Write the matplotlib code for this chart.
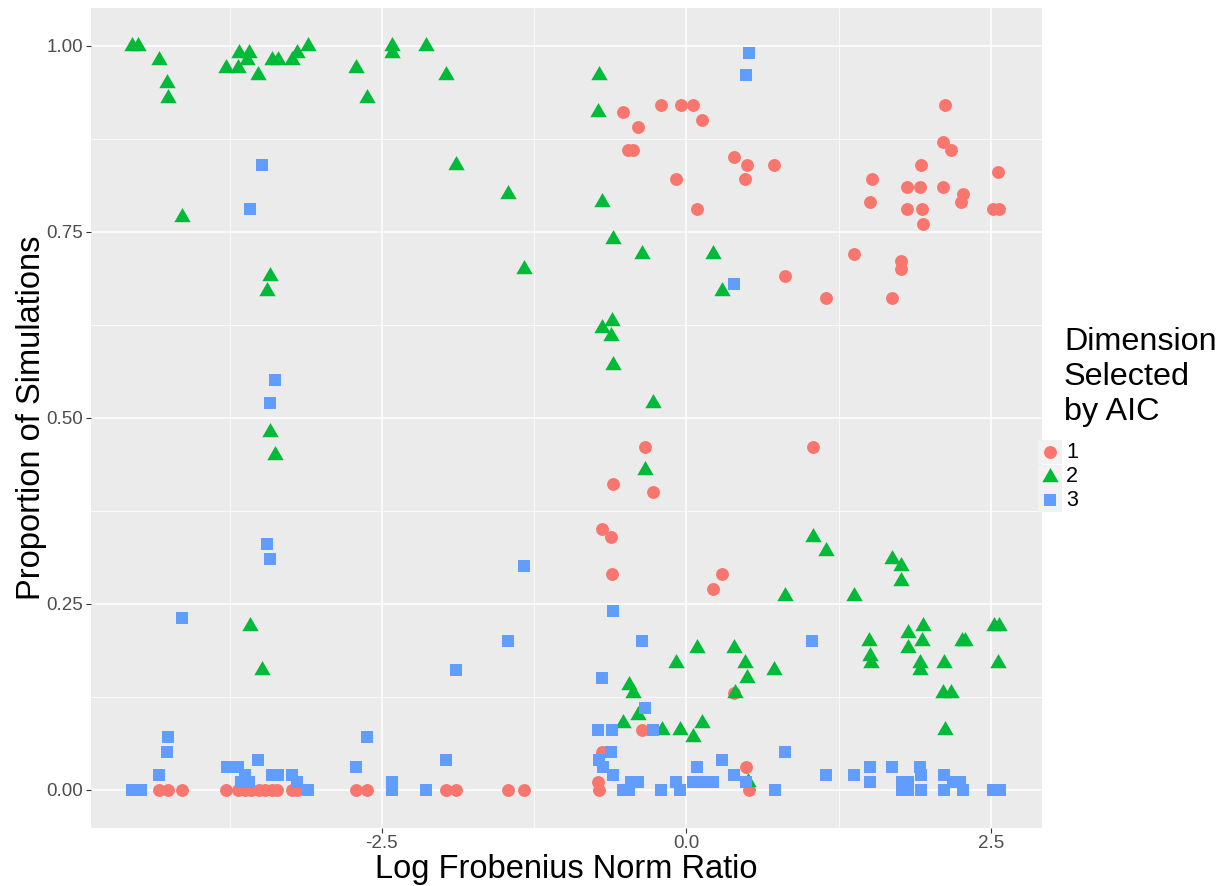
import matplotlib
matplotlib.use("Agg")
import matplotlib.pyplot as plt
import numpy as np
from matplotlib.path import Path
from matplotlib.patches import Rectangle

plt.rcParams['font.family'] = ['Liberation Sans', 'DejaVu Sans']

# ---------------- data ----------------
x_dim1 = [-4.33, -4.255, -4.14,
          -3.78, -3.68, -3.62, -3.57, -3.51, -3.46, -3.40, -3.36, -3.24, -3.20,
          -2.71, -2.62, -1.97, -1.89, -1.46, -1.33,
          -0.52, -0.40, -0.21, -0.046, 0.053, 0.129, -0.48, -0.435, 0.394, 0.498,
          0.72, 0.485, -0.085, 0.088, 0.81,
          2.12, 2.11, 2.17, 1.93, 1.525, 2.56, 1.815, 1.915, 2.11, 2.27, 2.255,
          1.505, 1.815, 1.935, 2.515, 2.57, 1.94, 1.374, 1.76, 1.763, 1.147,
          1.686, 1.038,
          -0.34, -0.60, -0.27, -0.69, -0.615, -0.61, 0.293, 0.222, 0.389, -0.364,
          -0.695, -0.725, -0.717, 0.49, 0.517]
y_dim1 = [0.00, 0.00, 0.00,
          0.00, 0.00, 0.00, 0.00, 0.00, 0.00, 0.00, 0.00, 0.00, 0.00,
          0.00, 0.00, 0.00, 0.00, 0.00, 0.00,
          0.91, 0.89, 0.92, 0.92, 0.92, 0.90, 0.86, 0.86, 0.85, 0.84,
          0.84, 0.82, 0.82, 0.78, 0.69,
          0.92, 0.87, 0.86, 0.84, 0.82, 0.83, 0.81, 0.81, 0.81, 0.80, 0.79,
          0.79, 0.78, 0.78, 0.78, 0.78, 0.76, 0.72, 0.71, 0.70, 0.66,
          0.66, 0.46,
          0.46, 0.41, 0.40, 0.35, 0.34, 0.29, 0.29, 0.27, 0.13, 0.08,
          0.05, 0.01, 0.00, 0.03, 0.00]

x_dim2 = [-4.55, -4.50, -4.33, -4.26, -4.255, -3.78, -3.68, -3.67, -3.61, -3.59,
          -3.52, -3.40, -3.355, -3.24, -3.20, -3.11, -4.14, -3.44, -3.42, -3.42,
          -3.375, -3.58, -3.48,
          -2.42, -2.42, -2.14, -2.71, -2.62, -1.97, -1.89, -1.46, -1.33,
          -0.717, -0.725, -0.69, -0.60, -0.36, 0.22, 0.293, -0.61, -0.69, -0.615,
          -0.60, -0.27, -0.34,
          0.81, 0.088, 0.389, -0.085, 0.485, 0.498, 0.72, -0.47, -0.44, 0.397,
          -0.40, -0.52, -0.20, -0.049, 0.131, 0.052, 0.51,
          1.686, 1.763, 1.763, 1.374, 1.038, 1.147, 1.94, 1.82, 1.50, 1.935,
          2.26, 2.29, 2.53, 2.57, 1.82, 1.51, 1.52, 1.915, 1.92, 2.116, 2.56,
          2.105, 2.176, 2.12]
y_dim2 = [1.00, 1.00, 0.98, 0.95, 0.93, 0.97, 0.97, 0.99, 0.98, 0.99,
          0.96, 0.98, 0.98, 0.98, 0.99, 1.00, 0.77, 0.67, 0.69, 0.48,
          0.45, 0.22, 0.16,
          1.00, 0.99, 1.00, 0.97, 0.93, 0.96, 0.84, 0.80, 0.70,
          0.96, 0.91, 0.79, 0.74, 0.72, 0.72, 0.67, 0.63, 0.62, 0.61,
          0.57, 0.52, 0.43,
          0.26, 0.19, 0.19, 0.17, 0.17, 0.15, 0.16, 0.14, 0.13, 0.13,
          0.10, 0.09, 0.08, 0.08, 0.09, 0.07, 0.01,
          0.31, 0.30, 0.28, 0.26, 0.34, 0.32, 0.22, 0.21, 0.20, 0.20,
          0.20, 0.20, 0.22, 0.22, 0.19, 0.18, 0.17, 0.17, 0.16, 0.17, 0.17,
          0.13, 0.13, 0.08]

x_dim3 = [-3.48, -3.58, -3.375, -3.42, -3.44, -3.42, -4.14, -4.255, -4.26, -4.33,
          -4.55, -4.48,
          -3.77, -3.68, -3.52, -3.62, -3.66, -3.59, -3.40, -3.355, -3.24, -3.20,
          -3.11,
          -1.33, -1.46, -1.89, -2.62, -2.71, -2.42, -2.42, -2.14, -1.97,
          0.517, 0.49, 0.394, -0.60, -0.36, 1.03, -0.69, -0.34, -0.727, -0.61,
          -0.27, -0.615, -0.717, -0.686, -0.60, -0.454, -0.40, -0.52, -0.47, -0.21,
          -0.085, -0.049, 0.052, 0.112, 0.167, 0.222, 0.088, 0.293, 0.394, 0.49,
          0.726, 0.813,
          1.147, 1.374, 1.51, 1.51, 1.686, 1.768, 1.823, 1.768, 1.823, 1.92,
          1.93, 1.93, 2.116, 2.116, 2.19, 2.247, 2.274, 2.52, 2.575]
y_dim3 = [0.84, 0.78, 0.55, 0.52, 0.33, 0.31, 0.23, 0.07, 0.05, 0.02,
          0.00, 0.00,
          0.03, 0.03, 0.04, 0.02, 0.01, 0.01, 0.02, 0.02, 0.02, 0.01,
          0.00,
          0.30, 0.20, 0.16, 0.07, 0.03, 0.01, 0.00, 0.00, 0.04,
          0.99, 0.96, 0.68, 0.24, 0.20, 0.20, 0.15, 0.11, 0.08, 0.08,
          0.08, 0.05, 0.04, 0.03, 0.02, 0.01, 0.01, 0.00, 0.00, 0.00,
          0.01, 0.00, 0.01, 0.01, 0.01, 0.01, 0.03, 0.04, 0.02, 0.01,
          0.00, 0.05,
          0.02, 0.02, 0.03, 0.01, 0.03, 0.01, 0.01, 0.00, 0.00, 0.03,
          0.02, 0.00, 0.02, 0.00, 0.01, 0.01, 0.00, 0.00, 0.00]

legend_labels = ["1", "2", "3"]
x_ticks = [-2.5, 0.0, 2.5]
x_ticklabels = ["-2.5", "0.0", "2.5"]
y_ticks = [0.0, 0.25, 0.5, 0.75, 1.0]
y_ticklabels = ["0.00", "0.25", "0.50", "0.75", "1.00"]

# ---------------- style ----------------
colors = ["#F8766D", "#00BA38", "#619CFF"]
h = np.sqrt(3) / 2
tri = Path([(0, 2 * h / 3), (-0.5, -h / 3), (0.5, -h / 3), (0, 2 * h / 3)],
           [Path.MOVETO, Path.LINETO, Path.LINETO, Path.CLOSEPOLY])
markers = ["o", tri, "s"]
sizes = [86, 185, 84]

W, H = 1230, 886
fig = plt.figure(figsize=(W / 100, H / 100), dpi=100)
L, R, T, B = 91, 1042.3, 8.3, 828.3
ax = fig.add_axes([L / W, (H - B) / H, (R - L) / W, (B - T) / H])
ax.set_facecolor("#EBEBEB")

x0px, xs = 686.3, 121.8
y0px, ys = 789.5, 744.0
ax.set_xlim((L - x0px) / xs, (R - x0px) / xs)
ax.set_ylim((y0px - B) / ys, (y0px - T) / ys)

for xm in [-3.75, -1.25, 1.25]:
    ax.axvline(xm, color="white", lw=0.55, zorder=0)
for ym in [0.125, 0.375, 0.625, 0.875]:
    ax.axhline(ym, color="white", lw=0.55, zorder=0)
for xm in x_ticks:
    ax.axvline(xm, color="white", lw=1.1, zorder=0)
for ym in y_ticks:
    ax.axhline(ym, color="white", lw=1.1, zorder=0)

for xs_, ys_, c, m, s in zip([x_dim1, x_dim2, x_dim3], [y_dim1, y_dim2, y_dim3],
                             colors, markers, sizes):
    ax.scatter(xs_, ys_, c=c, marker=m, s=s, linewidths=0, zorder=3)

for sp in ax.spines.values():
    sp.set_visible(False)

ax.set_xticks(x_ticks)
ax.set_xticklabels(x_ticklabels)
ax.set_yticks(y_ticks)
ax.set_yticklabels(y_ticklabels)
ax.tick_params(axis="both", length=3.5, width=0.8, color="#333333",
               labelcolor="#4D4D4D", labelsize=13.5, pad=2)
ax.tick_params(axis="x", pad=1.5)

ax.set_xlabel("Log Frobenius Norm Ratio", fontsize=23.5, color="black", labelpad=1)
ax.set_ylabel("Proportion of Simulations", fontsize=23.5, color="black", labelpad=0)

# ---------------- legend ----------------
lg = fig.add_axes([0, 0, 1, 1], facecolor="none")
lg.set_xlim(0, W)
lg.set_ylim(H, 0)
lg.axis("off")
for i, line in enumerate(["Dimension", "Selected", "by AIC"]):
    lg.text(1064, 342 + i * 35, line, fontsize=23.3, ha="left", va="center")
key_y = [452, 476.5, 500]
for i in range(3):
    lg.add_patch(Rectangle((1038, key_y[i] - 12), 24, 24, facecolor="#F2F2F2",
                           edgecolor="none"))
    lg.scatter([1050], [key_y[i]], c=colors[i], marker=markers[i], s=sizes[i],
               linewidths=0)
    lg.text(1066, key_y[i], legend_labels[i], fontsize=15.5, ha="left", va="center")

fig.savefig("out.png", dpi=100)
